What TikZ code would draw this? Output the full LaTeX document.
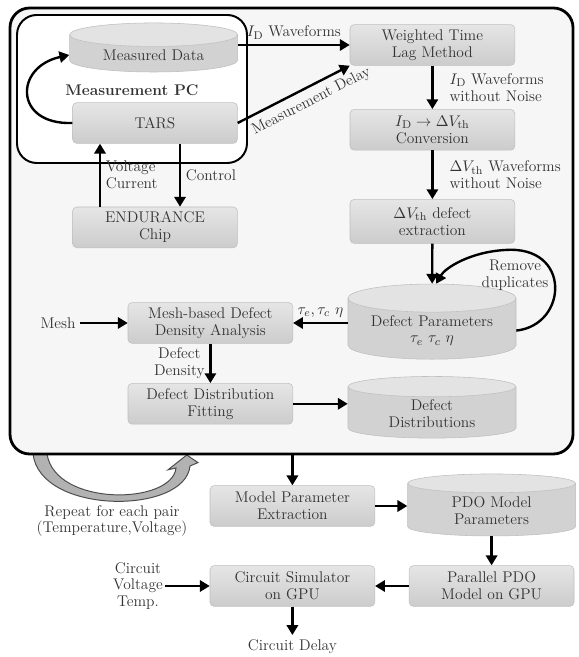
\documentclass[tikz,border=0pt]{standalone}
\usepackage{amsmath}
\usetikzlibrary{arrows.meta, positioning, shapes.geometric, calc}

\begin{document}
\begin{tikzpicture}[
    every node/.style={font=\fontsize{11}{12}\selectfont, text=black!80},
    frame/.style={draw=black, line width=2pt, rounded corners=14pt},
    box/.style={draw=gray!50, rounded corners=3pt, top color=gray!20, bottom color=gray!40, minimum width=4.12cm, minimum height=1.02cm, align=center, inner sep=2pt},
    store/.style={cylinder, shape border rotate=90, aspect=0.22, draw=gray!50, cylinder uses custom fill, cylinder body fill=gray!35, cylinder end fill=gray!22, minimum width=4.2cm, align=center, inner sep=2pt},
    flow/.style={-{Triangle[length=7pt,width=8pt]}, line width=1.7pt, black},
    note/.style={align=center, inner sep=1pt}
]
    \useasboundingbox (0,0) rectangle (14.475,16.425);

    % Repeat arrow (sits under the frame)
    \draw[fill=gray!60, draw=black!70, line width=0.7pt]
        (0.825,5.08) .. controls (1.0,3.55) and (4.625,3.55) .. (4.75,4.775)
        -- (4.95,4.86) -- (4.67,5.05) -- (4.2,4.68) -- (4.4,4.725)
        .. controls (4.3,3.8) and (1.375,3.75) .. (1.175,5.08) -- cycle;

    % Frames
    \node[frame, fill=gray!7, minimum width=14.075cm, minimum height=11.15cm] (loop) at (7.2875,10.65) {};
    \node[frame, line width=1.4pt, fill=white, minimum width=5.75cm, minimum height=3.7cm] (pc) at (3.3,14.2) {};
    \node[font=\fontsize{11}{12}\selectfont\bfseries] (pclabel) at (3.3,14.175) {Measurement PC};

    % Measurement side
    \node[store, minimum height=0.7cm] (meas) at (3.84,15.05) {Measured Data};
    \node[box] (tars) at (3.875,13.35) {TARS};
    \node[box] (chip) at (3.875,10.74) {ENDURANCE\\Chip};

    % Extraction chain
    \node[box] (wtlm) at (10.81,15.3) {Weighted Time\\Lag Method};
    \node[box] (conv) at (10.81,13.18) {$I_\mathrm{D} \rightarrow \Delta V_\mathrm{th}$\\Conversion};
    \node[box, minimum height=1.1cm] (extr) at (10.81,10.89) {$\Delta V_\mathrm{th}$ defect\\extraction};
    \node[store, minimum height=1.15cm] (dpar) at (10.8,8.16) {Defect Parameters\\$\tau_e\ \tau_c\ \eta$};
    \node[note] (dup) at (12.875,9.55) {Remove\\duplicates};
    \node[box] (mesh) at (5.26,8.35) {Mesh-based Defect\\Density Analysis};
    \node (meshin) at (1.45,8.35) {Mesh};
    \node[box] (fit) at (5.26,6.33) {Defect Distribution\\Fitting};
    \node[store, minimum height=1.3cm] (ddist) at (10.8,6.08) {Defect\\Distributions};

    % GPU model side
    \node[note] (repeat) at (2.8,3.4) {Repeat for each pair\\(Temperature,Voltage)};
    \node[box] (mpe) at (7.31,3.775) {Model Parameter\\Extraction};
    \node[store, minimum height=1.55cm] (pdo) at (12.29,3.65) {PDO Model\\Parameters};
    \node[box] (ppdo) at (12.29,1.775) {Parallel PDO\\Model on GPU};
    \node[box] (csim) at (7.31,1.775) {Circuit Simulator\\on GPU};
    \node[note] (cin) at (3.45,1.775) {Circuit\\Voltage\\Temp.};
    \node (delay) at (7.31,0.25) {Circuit Delay};

    % Connections
    \draw[flow] (meas.east |- wtlm.west) -- (wtlm.west) node[midway, above] {$I_\mathrm{D}$ Waveforms};
    \draw[flow] (tars.east) -- (wtlm.south west) node[pos=0.6, below=1pt, sloped] {Measurement Delay};
    \draw[flow] (tars.west) .. controls (0.35,13.3) and (0.35,14.75) .. (meas.west);
    \draw[flow] ([xshift=-1.375cm]chip.north) -- ([xshift=-1.375cm]tars.south) node[midway, right, align=left] {Voltage\\Current};
    \draw[flow] ([xshift=0.625cm]tars.south) -- ([xshift=0.625cm]chip.north) node[midway, right] {Control};

    \draw[flow] (wtlm) -- (conv) node[midway, right, align=left, xshift=8pt] {$I_\mathrm{D}$ Waveforms\\without Noise};
    \draw[flow] (conv) -- (extr) node[midway, right, align=left, xshift=8pt] {$\Delta V_\mathrm{th}$ Waveforms\\without Noise};
    \draw[flow] (extr) -- (dpar);
    \draw[flow] (dpar.east) .. controls (14.2,8.3) and (14.3,10.3) .. (12.625,10.175)
        .. controls (11.75,10.125) and (11.125,9.725) .. ([xshift=3pt]dpar.north);
    \draw[flow] (dpar.west |- mesh.east) -- (mesh.east) node[midway, above] {$\tau_e, \tau_c\ \eta$};
    \draw[flow] (meshin) -- (mesh);
    \draw[flow] (mesh) -- (fit) node[midway, left, align=center] {Defect\\Density};
    \draw[flow] (fit.east) -- (fit.east -| ddist.west);

    \draw[flow] (loop.south -| mpe.north) -- (mpe);
    \draw[flow] (mpe.east) -- (mpe.east -| pdo.west);
    \draw[flow] (pdo) -- (ppdo);
    \draw[flow] (ppdo) -- (csim);
    \draw[flow] (cin) -- (csim);
    \draw[flow] (csim) -- (delay);
\end{tikzpicture}
\end{document}
